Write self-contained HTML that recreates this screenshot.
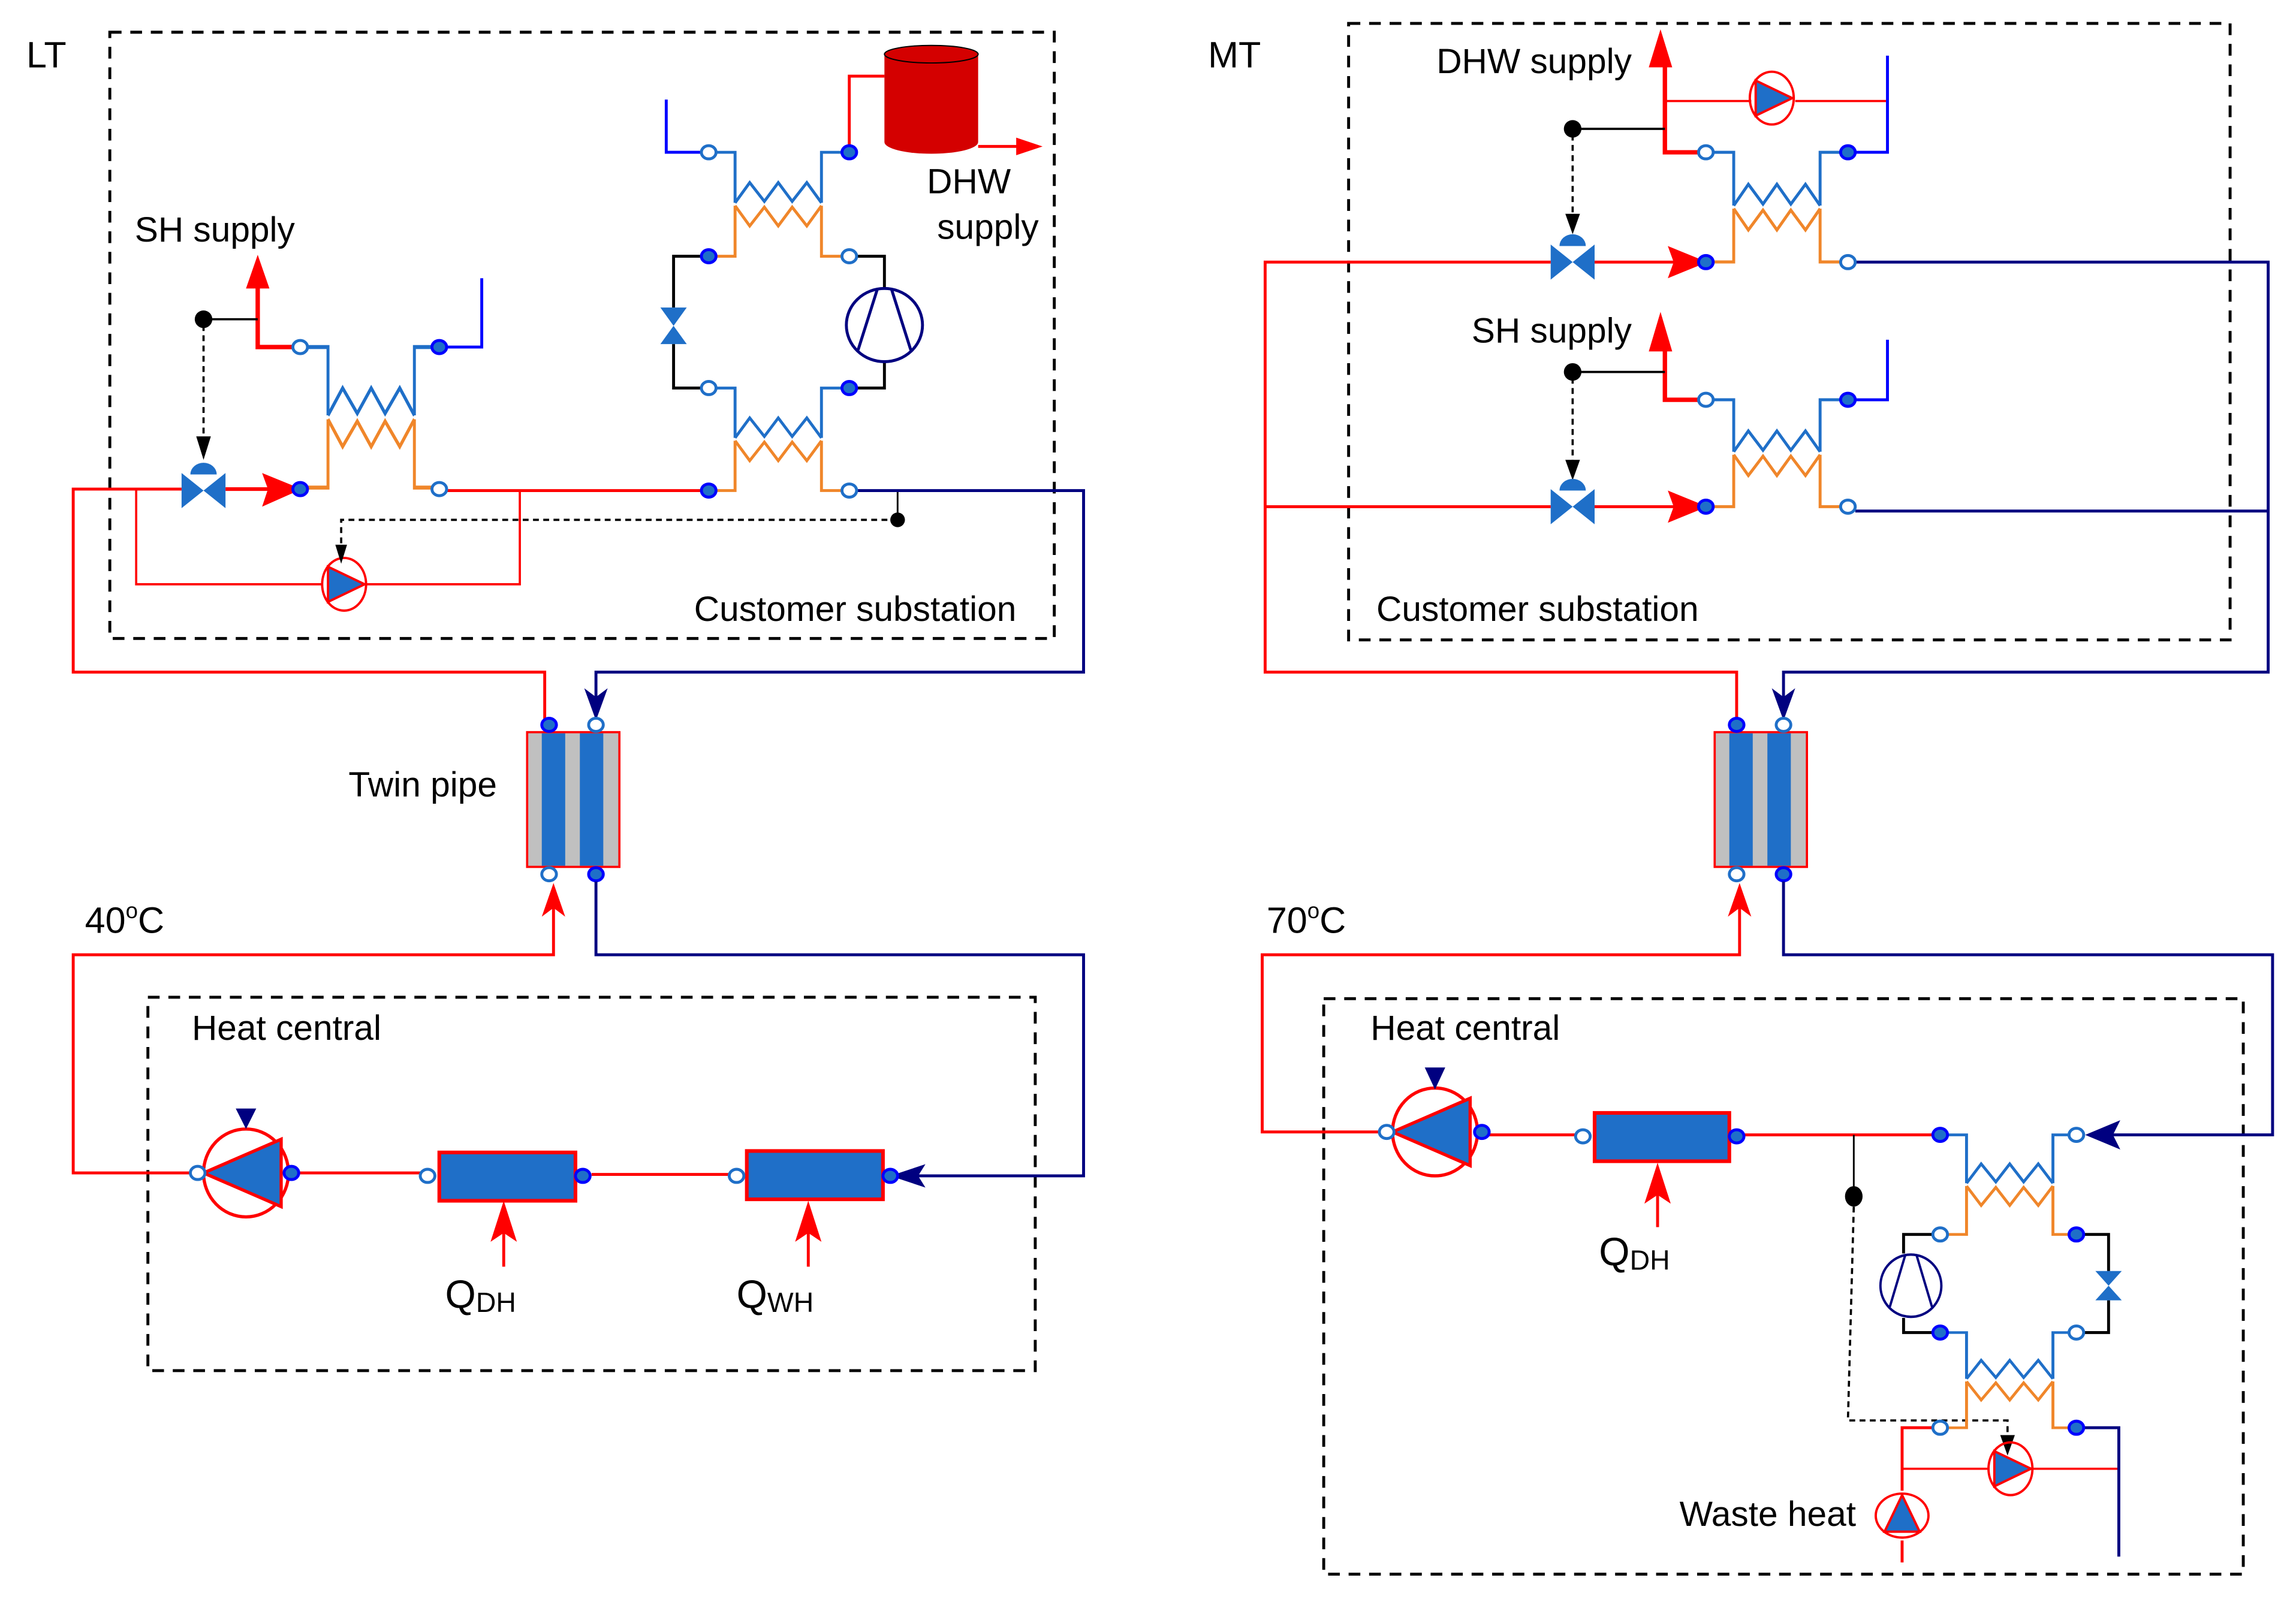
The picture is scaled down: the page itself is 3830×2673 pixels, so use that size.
<!DOCTYPE html>
<html><head><meta charset="utf-8"><style>
html,body{margin:0;padding:0;background:#fff;}
svg{display:block;}
text{font-family:"Liberation Sans",sans-serif;fill:#000;}
</style></head><body>
<svg width="3830" height="2673" viewBox="0 0 1568 1094" preserveAspectRatio="none" xmlns="http://www.w3.org/2000/svg">
<defs>
 <g id="hx">
  <path d="M-14,0 H0 V35 M73,0 H59 V35" fill="none" stroke="#1f6fc8" stroke-width="2"/>
  <polyline points="0,35 10,21 20,34 29.5,21 39,34 49,21 59,35" fill="none" stroke="#1f6fc8" stroke-width="2"/>
  <path d="M-14,72 H0 V37 M73,72 H59 V37" fill="none" stroke="#f0862a" stroke-width="2"/>
  <polyline points="0,37 10,51 20,38 29.5,51 39,38 49,51 59,37" fill="none" stroke="#f0862a" stroke-width="2"/>
 </g>
 <g id="po"><ellipse cx="0" cy="0" rx="5" ry="4.5" fill="#fff" stroke="#1f6fc8" stroke-width="2"/></g>
 <g id="pf"><ellipse cx="0" cy="0" rx="5" ry="4.5" fill="#1f6fc8" stroke="#0000ff" stroke-width="2"/></g>
 <g id="valveH">
  <polygon points="-15,-12 -15,12 15,-12 15,12" fill="#1f6fc8"/>
 </g>
 <g id="act"><path d="M-9,0 A9,8 0 0 1 9,0 Z" fill="#1f6fc8"/></g>
 <g id="pumpR">
  <ellipse cx="0" cy="0" rx="15" ry="18" fill="none" stroke="#f00" stroke-width="1.6"/>
  <polygon points="-11,-12 -11,12 14,0" fill="#1f6fc8" stroke="#f00" stroke-width="1.6"/>
 </g>
 <g id="pumpBig">
  <ellipse cx="0" cy="0" rx="29" ry="30" fill="none" stroke="#f00" stroke-width="2.2"/>
  <polygon points="-29,0 24,-23 24,23" fill="#1f6fc8" stroke="#f00" stroke-width="2.2"/>
 </g>
 <g id="comp">
  <ellipse cx="0" cy="0" rx="26" ry="25" fill="none" stroke="#000080" stroke-width="2"/>
  <path d="M-5,-24 L-18,17 M5,-24 L18,17" stroke="#000080" stroke-width="2"/>
 </g>
 <g id="twin">
  <rect x="0" y="0" width="63" height="92" fill="#c0c0c0" stroke="#f00" stroke-width="1.5"/>
  <rect x="10" y="0.8" width="16" height="90.4" fill="#1f6fc8"/>
  <rect x="36" y="0.8" width="16" height="90.4" fill="#1f6fc8"/>
 </g>
</defs>

<!-- ================= LT ================= -->
<text x="18" y="46" font-size="25">LT</text>
<rect x="75" y="22" width="645" height="414" fill="none" stroke="#000" stroke-width="2" stroke-dasharray="8,6"/>
<rect x="101" y="681" width="606" height="255" fill="none" stroke="#000" stroke-width="2" stroke-dasharray="8,6"/>

<g transform="translate(224,237) scale(1,1.333)"><use href="#hx"/></g>
<text x="92" y="165" font-size="24">SH supply</text>
<path d="M205,237 H176 V195" fill="none" stroke="#f00" stroke-width="3"/>
<polygon points="176,174 168,197 184,197" fill="#f00"/>
<path d="M300,237 H329 V190" fill="none" stroke="#0000ff" stroke-width="2"/>
<circle cx="139" cy="218" r="6" fill="#000"/>
<line x1="139" y1="218" x2="176" y2="218" stroke="#000" stroke-width="1.5"/>
<line x1="139" y1="222" x2="139" y2="304" stroke="#000" stroke-width="1.5" stroke-dasharray="4,3"/>
<polygon points="139,314 134,298 144,298" fill="#000"/>
<g transform="translate(139,335)"><use href="#valveH"/></g>
<g transform="translate(139,324)"><use href="#act"/></g>
<path d="M372,495 L372,459 H50 V334 H124" fill="none" stroke="#f00" stroke-width="2"/>
<line x1="154" y1="334" x2="190" y2="334" stroke="#f00" stroke-width="2.5"/>
<polygon points="206,334 179,323 183,334 179,346" fill="#f00"/>
<path d="M93,334 V399 H220 M250,399 H355 V335" fill="none" stroke="#f00" stroke-width="1.5"/>
<g transform="translate(235,399)"><use href="#pumpR"/></g>
<line x1="305" y1="335" x2="484" y2="335" stroke="#f00" stroke-width="2"/>
<path d="M613,335 V355" stroke="#000" stroke-width="1.2"/>
<circle cx="613" cy="355" r="5" fill="#000"/>
<path d="M613,355 H233 V378" fill="none" stroke="#000" stroke-width="1.5" stroke-dasharray="4,3"/>
<polygon points="233,385 229,372 237,372" fill="#000"/>
<use href="#pf" x="205" y="334"/><use href="#po" x="300" y="334"/>
<use href="#po" x="205" y="237"/><use href="#pf" x="300" y="237"/>
<path d="M584,335 H740 V459 H407 V486" fill="none" stroke="#000080" stroke-width="2"/>
<polygon points="407,492 399,470 407,476 415,470" fill="#000080"/>

<g transform="translate(502,104) scale(1,0.986)"><use href="#hx"/></g>
<g transform="translate(502,265) scale(1,0.972)"><use href="#hx"/></g>
<path d="M484,104 H455 V68" fill="none" stroke="#0000ff" stroke-width="2"/>
<path d="M580,104 V52 H604" fill="none" stroke="#f00" stroke-width="2"/>
<path d="M484,175 H460 V210 M460,235 V265 H484" fill="none" stroke="#000" stroke-width="2"/>
<polygon points="451,210 469,210 451,235 469,235" fill="#1f6fc8"/>
<path d="M580,175 H604 V197 M604,247 V265 H580" fill="none" stroke="#000" stroke-width="2"/>
<g transform="translate(604,222)"><use href="#comp"/></g>
<use href="#po" x="484" y="104"/><use href="#pf" x="580" y="104"/>
<use href="#pf" x="484" y="175"/><use href="#po" x="580" y="175"/>
<use href="#po" x="484" y="265"/><use href="#pf" x="580" y="265"/>
<use href="#pf" x="484" y="335"/><use href="#po" x="580" y="335"/>
<path d="M604,38 V97 A32,8 0 0 0 668,97 V38 Z" fill="#d40000"/>
<ellipse cx="636" cy="37" rx="32" ry="6" fill="#d40000" stroke="#000" stroke-width="0.8"/>
<line x1="668" y1="100" x2="698" y2="100" stroke="#f00" stroke-width="2"/>
<polygon points="712,100 694,94 694,106" fill="#f00"/>
<text x="633" y="132" font-size="24">DHW</text>
<text x="640" y="163" font-size="24">supply</text>
<text x="474" y="424" font-size="24">Customer substation</text>

<use href="#twin" x="360" y="500"/>
<text x="238" y="544" font-size="24">Twin pipe</text>
<use href="#pf" x="375" y="495"/><use href="#po" x="407" y="495"/>
<use href="#po" x="375" y="597"/><use href="#pf" x="407" y="597"/>
<text x="58" y="637" font-size="25">40<tspan font-size="15" dy="-10">o</tspan><tspan dy="10">C</tspan></text>
<path d="M378,620 V652 H50 V801 H133" fill="none" stroke="#f00" stroke-width="2"/>
<polygon points="378,603 370,626 378,620 386,626" fill="#f00"/>
<path d="M407,602 V652 H740 V803 H620" fill="none" stroke="#000080" stroke-width="2"/>
<polygon points="608,803 632,795 627,803 632,811" fill="#000080"/>

<text x="131" y="710" font-size="24">Heat central</text>
<g transform="translate(168,801)"><use href="#pumpBig"/></g>
<polygon points="161,757 175,757 168,771" fill="#000080"/>
<line x1="202" y1="801" x2="288" y2="801" stroke="#f00" stroke-width="2"/>
<rect x="300" y="787" width="93" height="33" fill="#1f6fc8" stroke="#f00" stroke-width="2.5"/>
<line x1="404" y1="802" x2="498" y2="802" stroke="#f00" stroke-width="2"/>
<rect x="510" y="786" width="93" height="33" fill="#1f6fc8" stroke="#f00" stroke-width="2.5"/>
<use href="#po" x="135" y="801"/><use href="#pf" x="199" y="801"/>
<use href="#po" x="292" y="803"/><use href="#pf" x="398" y="803"/>
<use href="#po" x="503" y="803"/><use href="#pf" x="608" y="803"/>
<line x1="344" y1="865" x2="344" y2="835" stroke="#f00" stroke-width="2"/>
<polygon points="344,820 335,848 344,842 353,848" fill="#f00"/>
<line x1="552" y1="865" x2="552" y2="835" stroke="#f00" stroke-width="2"/>
<polygon points="552,820 543,848 552,842 561,848" fill="#f00"/>
<text x="304" y="893" font-size="27">Q<tspan font-size="19" dy="3">DH</tspan></text>
<text x="503" y="893" font-size="27">Q<tspan font-size="19" dy="3">WH</tspan></text>

<!-- ================= MT ================= -->
<text x="825" y="46" font-size="25">MT</text>
<rect x="921" y="16" width="602" height="421" fill="none" stroke="#000" stroke-width="2" stroke-dasharray="8,6"/>
<rect x="904" y="682" width="628" height="393" fill="none" stroke="#000" stroke-width="2" stroke-dasharray="8,6"/>

<text x="981" y="50" font-size="24">DHW supply</text>
<g transform="translate(1184,104) scale(1,1.04)"><use href="#hx"/></g>
<path d="M1165,104 H1137 V40" fill="none" stroke="#f00" stroke-width="3"/>
<polygon points="1134,20 1126,46 1142,46" fill="#f00"/>
<path d="M1137,69 H1196 M1226,69 H1288" fill="none" stroke="#f00" stroke-width="1.5"/>
<g transform="translate(1210,67)"><use href="#pumpR"/></g>
<path d="M1262,104 H1289 V38" fill="none" stroke="#0000ff" stroke-width="2"/>
<circle cx="1074" cy="88" r="6" fill="#000"/>
<line x1="1074" y1="88" x2="1137" y2="88" stroke="#000" stroke-width="1.5"/>
<line x1="1074" y1="92" x2="1074" y2="150" stroke="#000" stroke-width="1.5" stroke-dasharray="4,3"/>
<polygon points="1074,160 1069,146 1079,146" fill="#000"/>
<g transform="translate(1074,179)"><use href="#valveH"/></g>
<g transform="translate(1074,168)"><use href="#act"/></g>

<text x="1005" y="234" font-size="24">SH supply</text>
<g transform="translate(1184,273) scale(1,1.014)"><use href="#hx"/></g>
<path d="M1165,273 H1137 V238" fill="none" stroke="#f00" stroke-width="3"/>
<polygon points="1134,213 1126,240 1142,240" fill="#f00"/>
<path d="M1262,273 H1289 V232" fill="none" stroke="#0000ff" stroke-width="2"/>
<circle cx="1074" cy="254" r="6" fill="#000"/>
<line x1="1074" y1="254" x2="1137" y2="254" stroke="#000" stroke-width="1.5"/>
<line x1="1074" y1="258" x2="1074" y2="318" stroke="#000" stroke-width="1.5" stroke-dasharray="4,3"/>
<polygon points="1074,328 1069,314 1079,314" fill="#000"/>
<g transform="translate(1074,346)"><use href="#valveH"/></g>
<g transform="translate(1074,335)"><use href="#act"/></g>

<path d="M1186,495 L1186,459 H864 V179 H1059" fill="none" stroke="#f00" stroke-width="2"/>
<line x1="1089" y1="179" x2="1150" y2="179" stroke="#f00" stroke-width="2"/>
<polygon points="1166,179 1139,168 1143,179 1139,190" fill="#f00"/>
<path d="M864,346 H1059 M1089,346 H1150" fill="none" stroke="#f00" stroke-width="2"/>
<polygon points="1166,346 1139,335 1143,346 1139,357" fill="#f00"/>
<path d="M1267,179 H1549 V459 H1218 V486" fill="none" stroke="#000080" stroke-width="2"/>
<path d="M1267,349 H1549" fill="none" stroke="#000080" stroke-width="2"/>
<polygon points="1218,492 1210,470 1218,476 1226,470" fill="#000080"/>
<use href="#po" x="1165" y="104"/><use href="#pf" x="1262" y="104"/>
<use href="#pf" x="1165" y="179"/><use href="#po" x="1262" y="179"/>
<use href="#po" x="1165" y="273"/><use href="#pf" x="1262" y="273"/>
<use href="#pf" x="1165" y="346"/><use href="#po" x="1262" y="346"/>
<text x="940" y="424" font-size="24">Customer substation</text>

<use href="#twin" x="1171" y="500"/>
<use href="#pf" x="1186" y="495"/><use href="#po" x="1218" y="495"/>
<use href="#po" x="1186" y="597"/><use href="#pf" x="1218" y="597"/>
<text x="865" y="637" font-size="25">70<tspan font-size="15" dy="-10">o</tspan><tspan dy="10">C</tspan></text>
<path d="M1188,620 V652 H862 V773 H945" fill="none" stroke="#f00" stroke-width="2"/>
<polygon points="1188,603 1180,626 1188,620 1196,626" fill="#f00"/>
<path d="M1218,602 V652 H1552 V775 H1440" fill="none" stroke="#000080" stroke-width="2"/>
<polygon points="1424,775 1448,765 1443,775 1448,785" fill="#000080"/>

<text x="936" y="710" font-size="24">Heat central</text>
<g transform="translate(980,773)"><use href="#pumpBig"/></g>
<polygon points="973,729 987,729 980,744 " fill="#000080"/>
<line x1="1016" y1="775" x2="1076" y2="775" stroke="#f00" stroke-width="2"/>
<rect x="1089" y="760" width="92" height="33" fill="#1f6fc8" stroke="#f00" stroke-width="2.5"/>
<line x1="1191" y1="775" x2="1320" y2="775" stroke="#f00" stroke-width="2"/>
<use href="#po" x="947" y="773"/><use href="#pf" x="1012" y="773"/>
<use href="#po" x="1081" y="776"/><use href="#pf" x="1186" y="776"/>
<line x1="1132" y1="838" x2="1132" y2="810" stroke="#f00" stroke-width="2"/>
<polygon points="1132,794 1123,822 1132,816 1141,822" fill="#f00"/>
<text x="1092" y="864" font-size="27">Q<tspan font-size="19" dy="3">DH</tspan></text>

<line x1="1266" y1="775" x2="1266" y2="812" stroke="#000" stroke-width="1.2"/>
<ellipse cx="1266" cy="817" rx="6" ry="7" fill="#000"/>
<path d="M1266,824 L1262,970 H1371 V985" fill="none" stroke="#000" stroke-width="1.5" stroke-dasharray="4,3"/>
<polygon points="1371,994 1366,980 1376,980" fill="#000"/>

<g transform="translate(1343,775) scale(1,0.944)"><use href="#hx"/></g>
<g transform="translate(1343,910) scale(1,0.903)"><use href="#hx"/></g>
<path d="M1325,843 H1300 V856 M1300,900 V910 H1325" fill="none" stroke="#000" stroke-width="2"/>
<g transform="translate(1305,878) scale(0.8,0.85)"><use href="#comp"/></g>
<path d="M1418,843 H1440 V868 M1440,888 V910 H1418" fill="none" stroke="#000" stroke-width="2"/>
<polygon points="1431,868 1449,868 1431,888 1449,888" fill="#1f6fc8"/>
<path d="M1325,975 H1299 V1018 M1299,1052 V1067" fill="none" stroke="#f00" stroke-width="2"/>
<path d="M1299,1003 H1358 M1386,1003 H1447" fill="none" stroke="#f00" stroke-width="1.5"/>
<g transform="translate(1373,1003)"><use href="#pumpR"/></g>
<g transform="translate(1299,1035) rotate(-90)"><use href="#pumpR"/></g>
<path d="M1423,975 H1447 V1063" fill="none" stroke="#000080" stroke-width="2"/>
<use href="#pf" x="1325" y="775"/><use href="#po" x="1418" y="775"/>
<use href="#po" x="1325" y="843"/><use href="#pf" x="1418" y="843"/>
<use href="#pf" x="1325" y="910"/><use href="#po" x="1418" y="910"/>
<use href="#po" x="1325" y="975"/><use href="#pf" x="1418" y="975"/>
<text x="1147" y="1042" font-size="24">Waste heat</text>
</svg>
</body></html>
